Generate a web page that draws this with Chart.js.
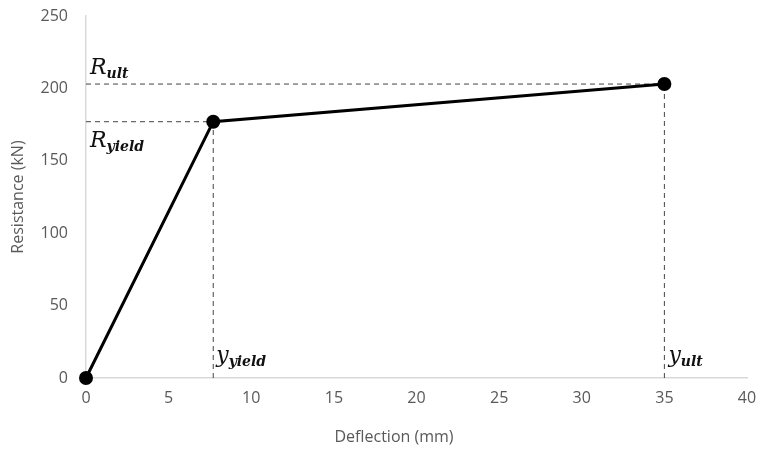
<!DOCTYPE html>
<html>
<head>
<meta charset="utf-8">
<script src="https://cdn.jsdelivr.net/npm/chart.js@4.4.0/dist/chart.umd.min.js"></script>
<style>
  html, body { margin: 0; padding: 0; background: #fff; }
  #wrap { width: 762px; height: 452px; }
</style>
</head>
<body>
<div id="wrap"><canvas id="curveChart" width="762" height="452"></canvas></div>
<script>
// Bilinear resistance curve: origin, yield point, ultimate point
var deflection = [0, 7.7, 35];
var resistance = [0, 177, 203];

// Axis tick values
var xTicks = [0, 5, 10, 15, 20, 25, 30, 35, 40];
var yTicks = [0, 50, 100, 150, 200, 250];

var yieldX = deflection[1], yieldR = resistance[1];
var ultX = deflection[2], ultR = resistance[2];

var curve = deflection.map(function (d, i) { return { x: d, y: resistance[i] }; });

// dashed guide lines from the axes to the two key points
function guide(points) {
    return {
        data: points,
        showLine: true,
        borderColor: '#444',
        borderWidth: 1,
        borderDash: [5, 4],
        pointRadius: 0,
        fill: false,
        order: 1
    };
}

var labelFont = '"Open Sans", sans-serif';

// Draws the axis titles and the R / y symbols
var annotations = {
    id: 'annotations',
    afterDraw: function (chart) {
        var ctx = chart.ctx;
        var xs = chart.scales.x, ys = chart.scales.y;
        ctx.save();
        ctx.fillStyle = '#595959';
        ctx.font = '16px ' + labelFont;
        ctx.textAlign = 'center';
        ctx.textBaseline = 'middle';
        ctx.fillText('Deflection (mm)', 394, 437);
        ctx.translate(18, 197);
        ctx.rotate(-Math.PI / 2);
        ctx.fillText('Resistance (kN)', 0, 0);
        ctx.restore();

        function symbol(main, sub, x, y) {
            ctx.save();
            ctx.fillStyle = '#111';
            ctx.textAlign = 'left';
            ctx.textBaseline = 'alphabetic';
            ctx.font = 'italic 22px "DejaVu Serif", serif';
            ctx.fillText(main, x, y);
            var w = ctx.measureText(main).width;
            ctx.font = 'italic bold 14px "DejaVu Serif", serif';
            ctx.fillText(sub, x + w, y + 4);
            ctx.restore();
        }
        var left = xs.getPixelForValue(0);
        symbol('R', 'ult', left + 4, ys.getPixelForValue(ultR) - 10);
        symbol('R', 'yield', left + 4, ys.getPixelForValue(yieldR) + 25);
        var base = ys.getPixelForValue(0);
        symbol('y', 'yield', xs.getPixelForValue(yieldX) + 3, base - 16);
        symbol('y', 'ult', xs.getPixelForValue(ultX) + 4, base - 16);
    }
};

var ctx = document.getElementById('curveChart').getContext('2d');

var myChart = new Chart(ctx, {
    type: 'scatter',
    data: {
        datasets: [
            {
                data: curve,
                showLine: true,
                borderColor: '#000',
                borderWidth: 3,
                pointRadius: 5.5,
                pointBackgroundColor: '#000',
                pointBorderColor: '#000',
                clip: false,
                order: 0
            },
            guide([{ x: 0, y: ultR }, { x: ultX, y: ultR }]),
            guide([{ x: 0, y: yieldR }, { x: yieldX, y: yieldR }]),
            guide([{ x: yieldX, y: 0 }, { x: yieldX, y: yieldR }]),
            guide([{ x: ultX, y: 0 }, { x: ultX, y: ultR }])
        ]
    },
    options: {
        responsive: false,
        animation: false,
        layout: { padding: { top: 16, right: 15, left: 0, bottom: 0 } },
        plugins: { legend: { display: false }, tooltip: { enabled: false } },
        scales: {
            x: {
                type: 'linear',
                min: 0,
                max: 40,
                afterBuildTicks: function (s) { s.ticks = xTicks.map(function (v) { return { value: v }; }); },
                afterFit: function (s) { s.height = 74; s.paddingRight = 0; s.paddingLeft = 0; },
                grid: { display: true, drawOnChartArea: false, drawTicks: false },
                border: { color: '#d9d9d9', width: 1.5 },
                ticks: { color: '#595959', font: { family: labelFont, size: 16 }, padding: 11, maxRotation: 0 }
            },
            y: {
                min: 0,
                max: 250,
                afterBuildTicks: function (s) { s.ticks = yTicks.map(function (v) { return { value: v }; }); },
                afterFit: function (s) { s.width = 86; s.paddingTop = 0; s.paddingBottom = 0; },
                grid: { display: true, drawOnChartArea: false, drawTicks: false },
                border: { color: '#d9d9d9', width: 1.5 },
                ticks: { color: '#595959', font: { family: labelFont, size: 16 }, padding: 18 }
            }
        }
    },
    plugins: [annotations]
});
</script>
</body>
</html>
